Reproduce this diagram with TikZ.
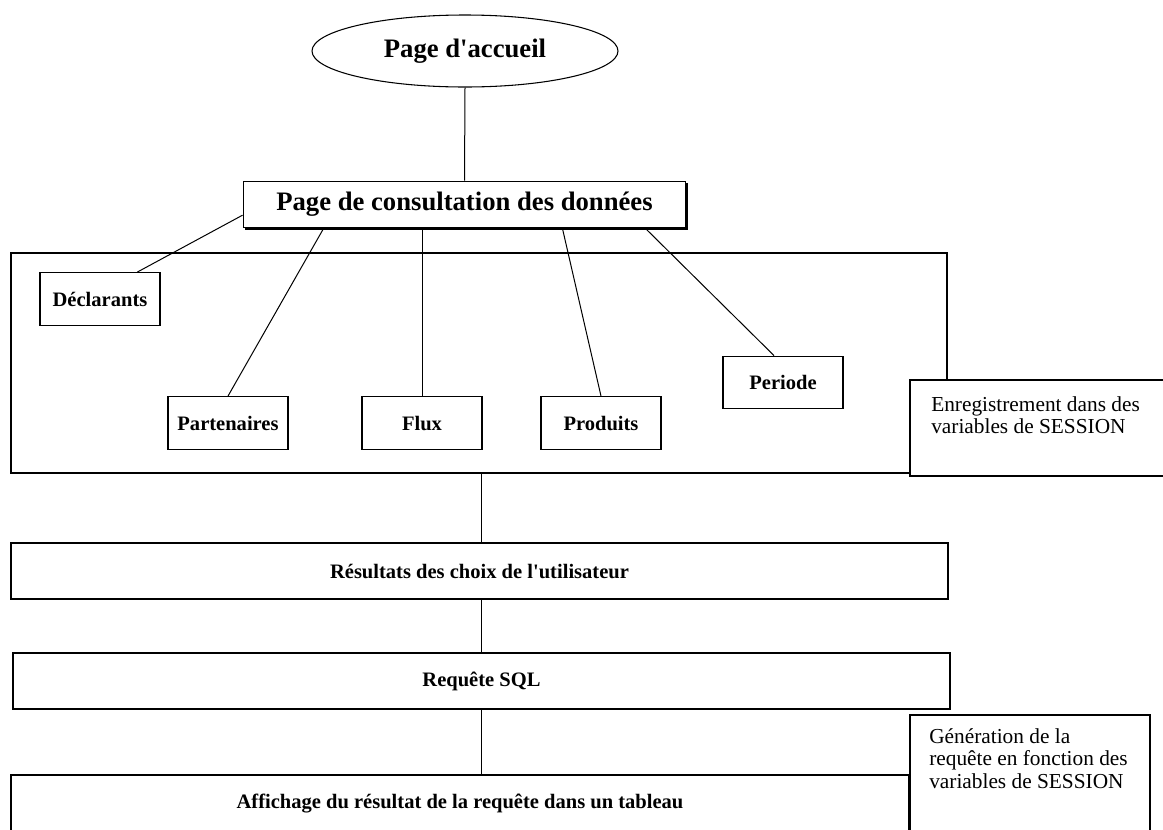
\documentclass[tikz,border=0pt]{standalone}
\usepackage{fontspec}
\setmainfont{Liberation Serif}
\usepackage{tikz}
\usetikzlibrary{positioning,shapes.geometric,shadows,calc}

\begin{document}
\begin{tikzpicture}[
    x=0.75pt, y=-0.75pt,
    accueil/.style={ellipse, draw, line width=0.8pt, minimum width=229.5pt, minimum height=54pt, font=\fontsize{20}{24}\selectfont\bfseries},
    titre/.style={rectangle, draw, fill=white, line width=0.9pt, minimum width=332pt, minimum height=35pt, font=\fontsize{20}{24}\selectfont\bfseries,
        drop shadow={shadow xshift=1.3pt, shadow yshift=-1.3pt, fill=black, opacity=1}},
    cadre/.style={rectangle, draw, line width=0.9pt},
    choix/.style={rectangle, draw, line width=0.9pt, minimum width=90pt, minimum height=39.5pt, font=\fontsize{15.4}{18}\selectfont\bfseries},
    etape/.style={rectangle, draw, fill=white, line width=0.9pt, minimum height=42pt, font=\fontsize{15.4}{18}\selectfont\bfseries},
    note/.style={rectangle, draw, fill=white, line width=1.4pt, anchor=north west},
    notetxt/.style={anchor=north west, inner sep=0pt, align=left, font=\fontsize{16}{17}\selectfont},
    lien/.style={line width=0.75pt}
]
\useasboundingbox (0,0) rectangle (1163,829);
\clip (0,0) rectangle (1163,829);

% === Pages ===
\node[accueil] (accueil) at (465,51) {Page d\textquotesingle accueil};
\node[titre] (consult) at (464.5,204.5) {Page de consultation des données};
\draw[lien] (accueil.south) -- (consult.north);

% === Choix de l'utilisateur ===
\node[cadre, minimum width=702pt, minimum height=165pt] (cadre) at (479,363) {};

\node[choix] (decl) at (100,299) {Déclarants};
\node[choix] (part) at (228,423) {Partenaires};
\node[choix] (flux) at (422,423) {Flux};
\node[choix] (prod) at (601,423) {Produits};
\node[choix] (periode) at (783,382.5) {Periode};

\draw[lien] ([yshift=-8pt]consult.west) -- ([xshift=28pt]decl.north);
\draw[lien] ([xshift=60.75pt]consult.south west) -- (part.north);
\draw[lien] (flux.north |- consult.south) -- (flux.north);
\draw[lien] ([xshift=-93pt]consult.south east) -- (prod.north);
\draw[lien] ([xshift=-30.75pt]consult.south east) -- ([xshift=-6.75pt]periode.north);

% note
\node[note, minimum width=199.5pt, minimum height=72pt] (enreg) at (909,379) {};
\node[notetxt] (enregtxt) at (931,396) {Enregistrement dans des\\variables de SESSION};

% === Traitement ===
\node[etape, minimum width=702.75pt] (result) at (479.5,571) {Résultats des choix de l\textquotesingle utilisateur};
\node[etape, minimum width=702.75pt] (requete) at (481.5,681) {Requête SQL};
\node[etape, minimum width=673.5pt, minimum height=42.75pt] (affich) at (460,803.5) {Affichage du résultat de la requête dans un tableau};

\draw[lien] (cadre.south -| requete.north) -- (requete.north |- result.north);
\draw[lien] (result.south -| requete.north) -- (requete.north);
\draw[lien] (requete.south) -- (requete.south |- affich.north);

% note
\node[note, minimum width=180pt, minimum height=97.5pt] (gener) at (909,714) {};
\node[notetxt] (genertxt) at (929,728) {Génération de la\\requête en fonction des\\variables de SESSION};
\end{tikzpicture}
\end{document}
